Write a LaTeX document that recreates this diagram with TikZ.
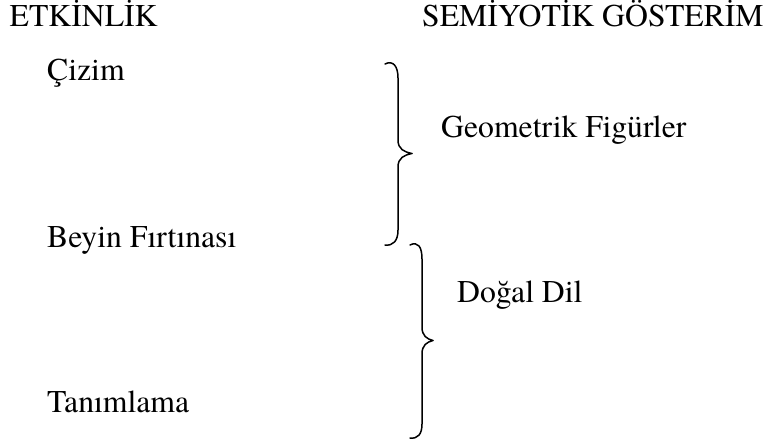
\documentclass[tikz,border=0pt]{standalone}
\usepackage{fontspec}
\setmainfont{TeX Gyre Termes}
\begin{document}
\begin{tikzpicture}[x=1pt,y=-1pt,
  lbl/.style={anchor=base west,inner sep=0pt,font=\fontsize{31.7}{36}\selectfont},
  brace/.style={line width=1.5pt,line cap=round,line join=round}]
\useasboundingbox (0,0) rectangle (774,441);
\node[lbl] (h1) at (9.5,27) {ETKİNLİK};
\node[lbl] (h2) at (422,27) {SEMİYOTİK GÖSTERİM};
\node[lbl] (a1) at (47,81) {Çizim};
\node[lbl] (a2) at (47,247) {Beyin Fırtınası};
\node[lbl] (a3) at (47,412) {Tanımlama};
\node[lbl] (s1) at (441,138) {Geometrik Figürler};
\node[lbl] (s2) at (457,302) {Doğal Dil};
% brace 1
\draw[brace] (385,64) .. controls (393,60) and (398,66) .. (398,78)
  -- (398,140) .. controls (398,149) and (404,152) .. (412,153.5)
  .. controls (404,155) and (398,158) .. (398,167)
  -- (398,230) .. controls (398,241) and (393,246) .. (385,245);
% brace 2
\draw[brace] (410,245) .. controls (418,241) and (422,247) .. (422,259)
  -- (422,327) .. controls (422,336) and (427,339) .. (433,340.5)
  .. controls (427,342) and (422,345) .. (422,354)
  -- (422,424) .. controls (422,434) and (418,439) .. (410,438);
\end{tikzpicture}
\end{document}
